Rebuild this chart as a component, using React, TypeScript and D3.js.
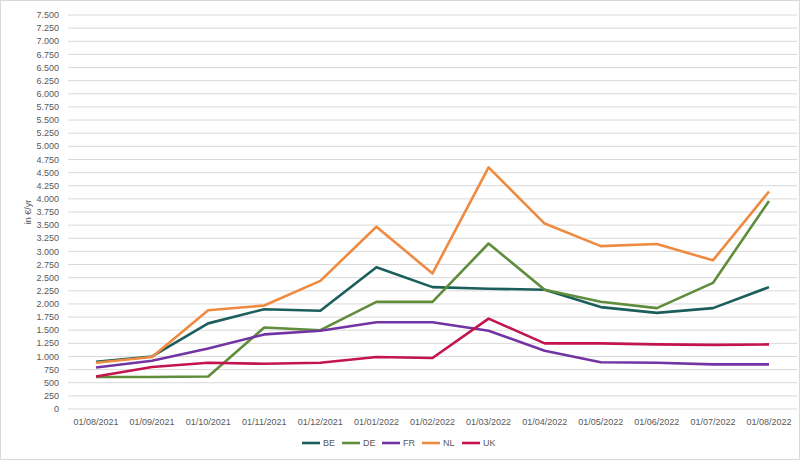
import * as d3 from "d3";

const dates = ["01/08/2021","01/09/2021","01/10/2021","01/11/2021","01/12/2021","01/01/2022","01/02/2022","01/03/2022","01/04/2022","01/05/2022","01/06/2022","01/07/2022","01/08/2022"];
const BE = [900,1000,1630,1900,1870,2700,2320,2290,2270,1940,1830,1920,2320];
const DE = [610,610,620,1550,1500,2040,2040,3150,2270,2040,1920,2400,3960];
const FR = [790,920,1150,1420,1490,1650,1650,1490,1110,890,880,850,850];
const NL = [880,990,1880,1970,2440,3470,2580,4600,3530,3100,3140,2830,4140];
const UK = [620,800,880,860,880,990,970,1720,1250,1250,1230,1220,1230];
const series = [
  { name: "BE", values: BE, color: "#1b5e5b" },
  { name: "DE", values: DE, color: "#5f8d3b" },
  { name: "FR", values: FR, color: "#7234a3" },
  { name: "NL", values: NL, color: "#ef8a41" },
  { name: "UK", values: UK, color: "#c3144f" },
];
const yTicks = d3.range(0, 7501, 250);

export default function App() {
  const W = 800, H = 460;
  const x = d3.scalePoint<string>().domain(dates).range([96, 769]);
  const y = d3.scaleLinear().domain([0, 7500]).range([409, 15]);
  const fmt = (v: number) => (v >= 1000 ? d3.format(",")(v).replace(",", ".") : String(v));
  const line = d3.line<number>().x((_, i) => x(dates[i])!).y((v) => y(v));
  const font = "'Liberation Sans', Arial, sans-serif";
  return (
    <svg width={W} height={H} style={{ position: "absolute", left: 0, top: 0, fontFamily: font }}>
      <rect x={0.5} y={0.5} width={W - 1} height={H - 1} fill="white" stroke="#d9d9d9" />
      {yTicks.map((t) => (
        <g key={t}>
          <line x1={68} x2={797} y1={y(t)} y2={y(t)} stroke="#d9d9d9" strokeWidth={1} />
          <text x={59} y={y(t)} dy="0.35em" textAnchor="end" fontSize={9} fill="#595959">{fmt(t)}</text>
        </g>
      ))}
      {dates.map((d) => (
        <text key={d} x={x(d)} y={425} textAnchor="middle" fontSize={9} fill="#595959">{d}</text>
      ))}
      <text transform={`translate(31,${y(3750)}) rotate(-90)`} textAnchor="middle" fontSize={9} fill="#595959">in €/yr</text>
      {series.map((s) => (
        <path key={s.name} d={line(s.values)!} fill="none" stroke={s.color} strokeWidth={2.6} strokeLinejoin="round" />
      ))}
      {series.map((s, i) => (
        <g key={s.name} transform={`translate(${302 + i * 40},443)`}>
          <line x1={0} x2={18} y1={0} y2={0} stroke={s.color} strokeWidth={2.6} />
          <text x={21} y={0} dy="0.35em" fontSize={9} fill="#595959">{s.name}</text>
        </g>
      ))}
    </svg>
  );
}
